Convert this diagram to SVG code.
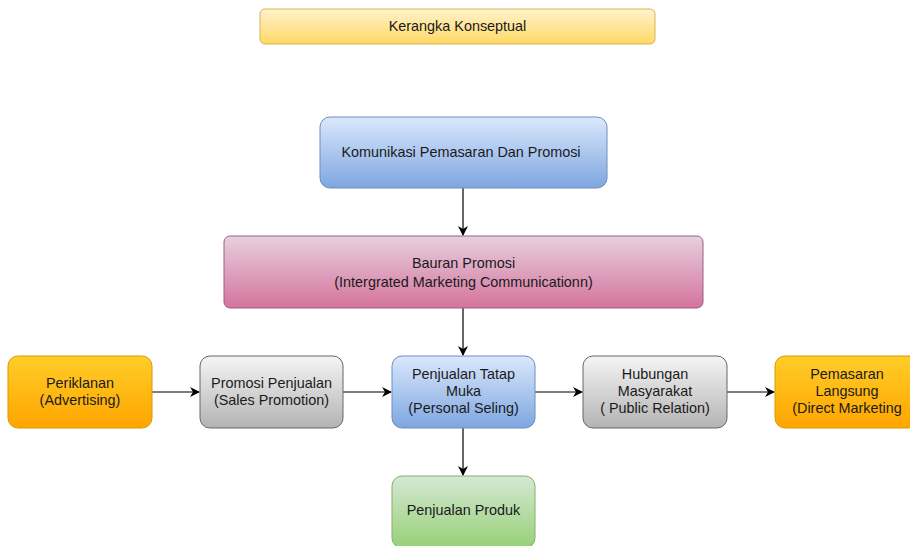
<svg xmlns="http://www.w3.org/2000/svg" width="910" height="546" viewBox="0 0 910 546">
<defs>
<linearGradient id="gY" x1="0" y1="0" x2="0" y2="1"><stop offset="0" stop-color="#fff2cc"/><stop offset="1" stop-color="#ffd966"/></linearGradient>
<linearGradient id="gB" x1="0" y1="0" x2="0" y2="1"><stop offset="0" stop-color="#dae8fc"/><stop offset="1" stop-color="#7ea6e0"/></linearGradient>
<linearGradient id="gP" x1="0" y1="0" x2="0" y2="1"><stop offset="0" stop-color="#e6d0de"/><stop offset="1" stop-color="#d5739d"/></linearGradient>
<linearGradient id="gO" x1="0" y1="0" x2="0" y2="1"><stop offset="0" stop-color="#ffcd28"/><stop offset="1" stop-color="#ffa500"/></linearGradient>
<linearGradient id="gG" x1="0" y1="0" x2="0" y2="1"><stop offset="0" stop-color="#f5f5f5"/><stop offset="1" stop-color="#b3b3b3"/></linearGradient>
<linearGradient id="gN" x1="0" y1="0" x2="0" y2="1"><stop offset="0" stop-color="#d5e8d4"/><stop offset="1" stop-color="#97d077"/></linearGradient>
<marker id="arr" viewBox="0 0 10 10" refX="9" refY="5" markerWidth="10" markerHeight="10" markerUnits="userSpaceOnUse" orient="auto"><path d="M0,0 L10,5 L0,10 L3,5 Z" fill="#000"/></marker>
</defs>
<style>
text{font-family:"Liberation Sans",Arial,sans-serif;font-size:14.4px;fill:#1a1a1a;text-anchor:middle}
.c{stroke:#000;stroke-width:1.2;fill:none;marker-end:url(#arr)}
</style>
<rect width="910" height="546" fill="#fff"/>
<g id="connectors">
<line class="c" x1="463" y1="188" x2="463" y2="235"/>
<line class="c" x1="463" y1="308" x2="463" y2="355"/>
<line class="c" x1="152" y1="392" x2="199" y2="392"/>
<line class="c" x1="343" y1="392" x2="391" y2="392"/>
<line class="c" x1="535" y1="392" x2="582" y2="392"/>
<line class="c" x1="727" y1="392" x2="774" y2="392"/>
<line class="c" x1="463" y1="428" x2="463" y2="475"/>
</g>
<g id="title"><rect x="260" y="9" width="395" height="35" rx="5" fill="url(#gY)" stroke="#d6b656"/><text x="457.5" y="31">Kerangka Konseptual</text></g>
<g id="komunikasi"><rect x="320" y="117" width="287" height="71" rx="10" fill="url(#gB)" stroke="#6c8ebf"/><text x="461" y="157">Komunikasi Pemasaran Dan Promosi</text></g>
<g id="bauran"><rect x="224" y="236" width="479" height="72" rx="6" fill="url(#gP)" stroke="#996185"/><text x="463.5" y="268">Bauran Promosi</text><text x="463.5" y="287">(Intergrated Marketing Communicationn)</text></g>
<g id="periklanan"><rect x="8" y="356" width="144" height="72" rx="10" fill="url(#gO)" stroke="#d79b00"/><text x="80" y="388">Periklanan</text><text x="80" y="405">(Advertising)</text></g>
<g id="promosi"><rect x="200" y="356" width="143" height="72" rx="10" fill="url(#gG)" stroke="#666"/><text x="271.5" y="388">Promosi Penjualan</text><text x="271.5" y="405">(Sales Promotion)</text></g>
<g id="tatapmuka"><rect x="392" y="356" width="143" height="72" rx="10" fill="url(#gB)" stroke="#6c8ebf"/><text x="463.5" y="379">Penjualan Tatap</text><text x="463.5" y="396">Muka</text><text x="463.5" y="413">(Personal Seling)</text></g>
<g id="hubungan"><rect x="583" y="356" width="144" height="72" rx="10" fill="url(#gG)" stroke="#666"/><text x="655" y="379">Hubungan</text><text x="655" y="396">Masyarakat</text><text x="655" y="413">( Public Relation)</text></g>
<g id="pemasaran"><rect x="775" y="356" width="144" height="72" rx="10" fill="url(#gO)" stroke="#d79b00"/><text x="847" y="379">Pemasaran</text><text x="847" y="396">Langsung</text><text x="847" y="413">(Direct Marketing</text></g>
<g id="produk"><rect x="392" y="476" width="143" height="72" rx="10" fill="url(#gN)" stroke="#82b366"/><text x="463.5" y="515">Penjualan Produk</text></g>
</svg>
